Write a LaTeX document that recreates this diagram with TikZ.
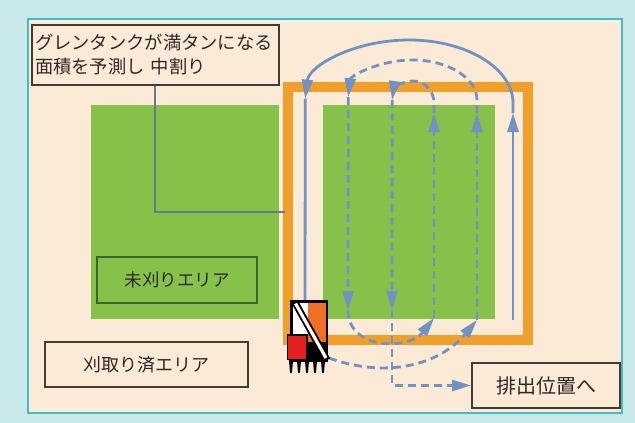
\documentclass[tikz,border=0pt]{standalone}
\usepackage{fontspec}
\setmainfont{Noto Sans CJK JP}
\usetikzlibrary{arrows.meta}

\definecolor{outerteal}{RGB}{200,232,234}
\definecolor{panelline}{RGB}{70,188,194}
\definecolor{panelfill}{RGB}{251,234,214}
\definecolor{fieldgreen}{RGB}{134,193,74}
\definecolor{boxgreen}{RGB}{62,98,52}
\definecolor{frameorange}{RGB}{240,160,42}
\definecolor{routeblue}{RGB}{115,146,196}
\definecolor{leadergray}{RGB}{100,124,134}
\definecolor{boxline}{RGB}{68,58,52}
\definecolor{inkdark}{RGB}{45,40,40}
\definecolor{combineorange}{RGB}{240,112,40}
\definecolor{combinered}{RGB}{226,32,30}

\tikzset{
  x=1pt, y=1pt,
  route/.style={draw=routeblue, line width=2.8pt},
  routedash/.style={route, dash pattern=on 8pt off 5pt},
  headed/.style={-{Triangle[length=19pt,width=11pt]}},
  labelbox/.style={draw=boxline, line width=2pt, fill=panelfill, text=inkdark,
    inner sep=3pt},
  areabox/.style={draw=boxgreen, line width=2pt, text=inkdark, inner sep=3pt},
}

\begin{document}
\begin{tikzpicture}
  % page and panel
  \fill[outerteal] (0,0) rectangle (635,-423);
  \useasboundingbox (0,0) rectangle (635,-423);
  \draw[panelline, line width=1.5pt, fill=panelfill] (28,-19) rectangle (622,-413);
  \draw[white, line width=1pt] (30,-21) -- (620,-21);

  % fields still to be harvested
  \fill[fieldgreen] (91,-105) rectangle (279,-319);
  \fill[fieldgreen] (323,-105) rectangle (495,-319);

  % headland harvested around the block
  \draw[frameorange, line width=10pt] (288,-87) rectangle (528,-340);

  % callout and its leader
  \node[labelbox, minimum width=247pt, minimum height=60pt, text width=241pt,
        align=left, font=\fontsize{18.3pt}{24pt}\selectfont] (note) at (155.5,-55)
        {グレンタンクが満タンになる\\面積を予測し 中割り};
  \coordinate (bend) at (155,-212);
  \coordinate (leaderend) at (285,-212);
  \draw[leadergray, line width=1.6pt] (note.south -| bend) -- (bend) -- (leaderend);

  % area labels
  \node[areabox, minimum width=160pt, minimum height=46pt,
        font=\fontsize{17.5pt}{20pt}\selectfont] (uncut) at (177,-280) {未刈りエリア};
  \node[labelbox, minimum width=203pt, minimum height=45pt,
        font=\fontsize{18pt}{20pt}\selectfont] (cut) at (146.5,-364.5) {刈取り済エリア};
  \node[labelbox, minimum width=148pt, minimum height=45pt,
        font=\fontsize{20pt}{22pt}\selectfont] (exitbox) at (546,-385.5) {排出位置へ};

  % outer round (solid)
  \coordinate (rbot) at (513,-320);
  \coordinate (rhead) at (513,-113);
  \coordinate (rtop) at (513,-103);
  \coordinate (ltop) at (305.3,-98.6);
  \coordinate (lbot) at (305,-300);
  \draw[route, headed] (rbot) -- (rhead);
  \draw[route, headed] (rhead) -- (rtop)
      arc[start angle=0, end angle=176, x radius=104, y radius=63];
  \draw[route] (ltop) -- (lbot);

  % middle cut (dashed)
  \coordinate (combout) at (329,-358);
  \coordinate (abot) at (477,-320);
  \coordinate (ahead) at (477,-113);
  \coordinate (atop) at (477,-100);
  \coordinate (btop) at (348.2,-97.2);
  \coordinate (bbot) at (348,-310);
  \coordinate (cbot) at (434,-318);
  \coordinate (chead) at (434,-113);
  \coordinate (ctop) at (434,-103);
  \coordinate (dtop) at (392.2,-99.9);
  \coordinate (dbot) at (392,-310);
  \coordinate (dturn) at (392,-385.5);

  \draw[routedash, headed] (combout) to[out=-20, in=230] (abot);
  \draw[routedash, headed] (abot) -- (ahead);
  \draw[routedash, headed] (ahead) -- (atop)
      arc[start angle=0, end angle=176, x radius=64.5, y radius=40];
  \draw[routedash, headed] (btop) -- (bbot);
  \draw[routedash, headed] (bbot) to[out=-90, in=232, looseness=1.2] (cbot);
  \draw[routedash, headed] (cbot) -- (chead);
  \draw[routedash, headed] (chead) -- (ctop)
      arc[start angle=0, end angle=172, x radius=21, y radius=22];
  \draw[routedash, headed] (dtop) -- (dbot);
  \draw[routedash, headed] (dbot) -- (dturn) -- (exitbox.west);

  % combine harvester
  \fill[black] (290,-300) rectangle (328,-362);
  \fill[white] (292.5,-302.5) rectangle (308,-336);
  \fill[combineorange] (308,-302.5) rectangle (325.5,-342);
  \draw[black, line width=7pt] (294.5,-301.5) -- (327,-360);
  \draw[white, line width=3.2pt] (295.5,-303.5) -- (326,-358);
  \draw[black, line width=1.2pt, fill=combinered] (287.5,-335) rectangle (307,-359.5);
  \foreach \tx in {291,299,307,315,323}
    \fill[black] (\tx-2.2,-359) -- (\tx+2.2,-359) -- (\tx+0.9,-373) -- (\tx-0.9,-373) -- cycle;
\end{tikzpicture}
\end{document}
